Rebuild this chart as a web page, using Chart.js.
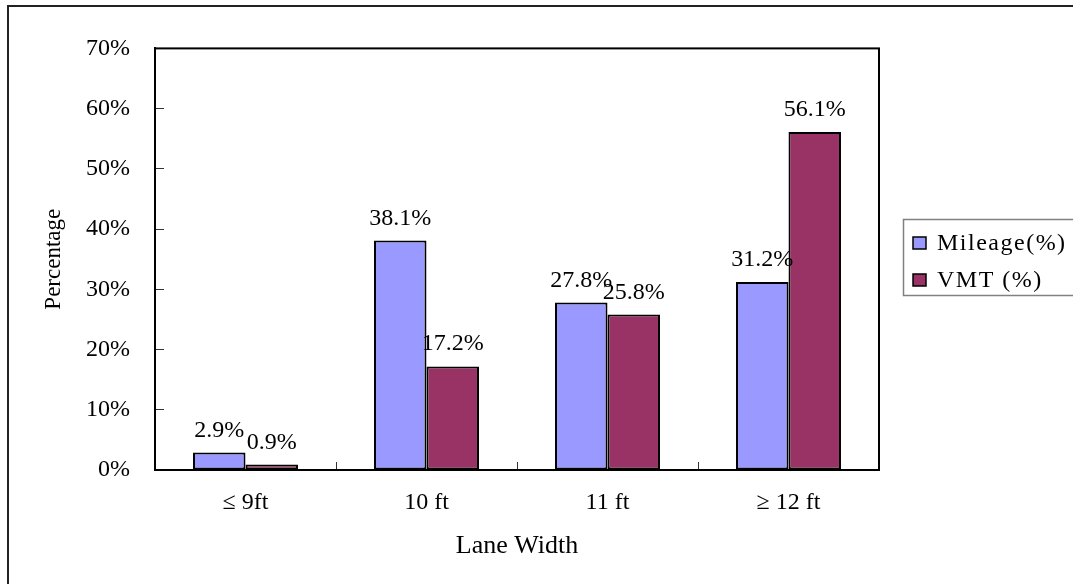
<!DOCTYPE html>
<html>
<head>
<meta charset="utf-8">
<script src="https://cdn.jsdelivr.net/npm/chart.js@4/dist/chart.umd.min.js"></script>
<style>
  body { margin: 0; background: #fff; }
  #wrap { width: 1073px; height: 584px; position: relative; }
</style>
</head>
<body>
<div id="wrap"><canvas id="laneChart"></canvas></div>
<script>
// chart data
var categories = ['\u2264 9ft', '10 ft', '11 ft', '\u2265 12 ft'];
var mileage = [2.9, 38.1, 27.8, 31.2];
var vmt = [0.9, 17.2, 25.8, 56.1];
var yTicks = [0, 10, 20, 30, 40, 50, 60, 70];

var serif = "'Liberation Serif', 'Times New Roman', serif";

// outer frame, plot box, value labels and legend
var extras = {
    id: 'extras',
    beforeDraw: function (chart) {
        var ctx = chart.ctx;
        ctx.save();
        ctx.fillStyle = '#fff';
        ctx.fillRect(0, 0, chart.width, chart.height);
        ctx.strokeStyle = '#222';
        ctx.lineWidth = 2;
        ctx.beginPath();
        ctx.moveTo(8, chart.height);
        ctx.lineTo(8, 6);
        ctx.lineTo(chart.width, 6);
        ctx.stroke();
        ctx.restore();
    },
    afterDatasetsDraw: function (chart) {
        var ctx = chart.ctx;
        var a = chart.chartArea;
        ctx.save();
        ctx.strokeStyle = '#000';
        ctx.lineWidth = 2;
        ctx.strokeRect(a.left, a.top, a.right - a.left, a.bottom - a.top);

        ctx.fillStyle = '#000';
        ctx.font = '24px ' + serif;
        ctx.textAlign = 'center';
        ctx.textBaseline = 'alphabetic';
        chart.data.datasets.forEach(function (ds, i) {
            var meta = chart.getDatasetMeta(i);
            meta.data.forEach(function (bar, j) {
                ctx.fillText(ds.data[j].toFixed(1) + '%', bar.x, bar.y - 16);
            });
        });

        // legend
        ctx.strokeStyle = '#808080';
        ctx.lineWidth = 1.5;
        ctx.strokeRect(903.5, 219.5, 200, 76);
        ctx.textAlign = 'left';
        ctx.textBaseline = 'middle';
        ctx.font = '24px ' + serif;
        ctx.letterSpacing = '1.5px';
        var rows = [243, 280];
        chart.data.datasets.forEach(function (ds, i) {
            var y = rows[i];
            ctx.fillStyle = ds.backgroundColor;
            ctx.fillRect(913, y - 6, 13, 12);
            ctx.strokeStyle = '#000';
            ctx.lineWidth = 1.5;
            ctx.strokeRect(913, y - 6, 13, 12);
            ctx.fillStyle = '#000';
            ctx.fillText(ds.label, 937, y + 1);
        });
        ctx.restore();
    }
};

document.addEventListener('DOMContentLoaded', function () {
    var ctx = document.getElementById('laneChart').getContext('2d');
    new Chart(ctx, {
        type: 'bar',
        data: {
            labels: categories,
            datasets: [{
                label: 'Mileage(%)',
                data: mileage,
                backgroundColor: '#9999FF',
                borderColor: '#000',
                borderWidth: 2,
                borderSkipped: false,
                categoryPercentage: 0.58,
                barPercentage: 1.0
            }, {
                label: 'VMT (%)',
                data: vmt,
                backgroundColor: '#993366',
                borderColor: '#000',
                borderWidth: 2,
                borderSkipped: false,
                categoryPercentage: 0.58,
                barPercentage: 1.0
            }]
        },
        options: {
            responsive: true,
            maintainAspectRatio: false,
            animation: false,
            layout: { padding: { top: 44, right: 194, bottom: 0, left: 0 } },
            plugins: {
                legend: { display: false },
                tooltip: { enabled: false }
            },
            scales: {
                x: {
                    afterFit: function (s) { s.height = 114; },
                    grid: { drawOnChartArea: false, drawTicks: true, tickLength: -8, color: '#333', offset: true },
                    border: { color: '#000', width: 2 },
                    ticks: { color: '#000', padding: 26, font: { family: serif, size: 24 } },
                    title: {
                        display: true, text: 'Lane Width', color: '#000',
                        font: { family: serif, size: 26 }, padding: { top: 0, bottom: 22 }
                    }
                },
                y: {
                    min: 0,
                    max: 70,
                    afterFit: function (s) { s.width = 155; },
                    afterBuildTicks: function (s) {
                        s.ticks = yTicks.map(function (v) { return { value: v }; });
                    },
                    grid: { drawOnChartArea: false, drawTicks: true, tickLength: -9, color: '#333' },
                    border: { color: '#000', width: 2 },
                    ticks: {
                        color: '#000', padding: 34, font: { family: serif, size: 24 },
                        callback: function (v) { return v + '%'; }
                    },
                    title: {
                        display: true, text: 'Percentage', color: '#000',
                        font: { family: serif, size: 23 }, padding: { top: 40, bottom: 0 }
                    }
                }
            }
        },
        plugins: [extras]
    });
});
</script>
</body>
</html>
